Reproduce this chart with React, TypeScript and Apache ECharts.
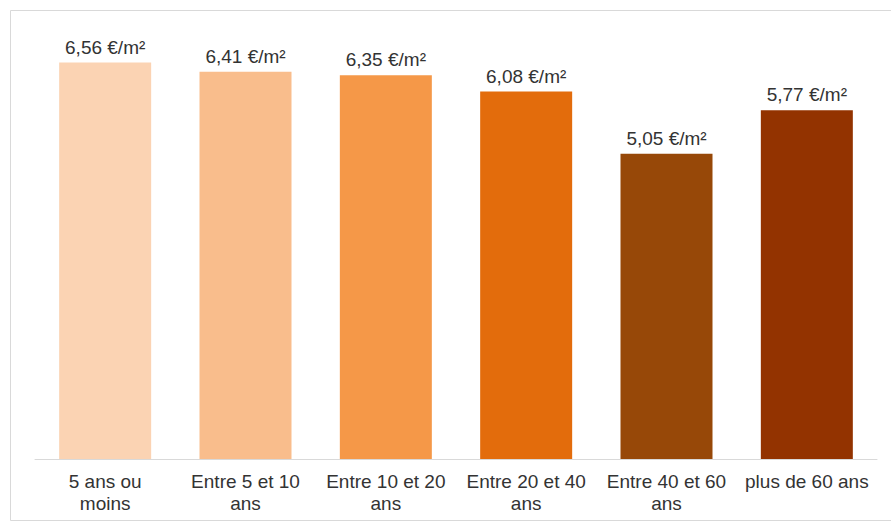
import React, { useEffect, useRef } from "react";
import * as echarts from "echarts";

const categories = [
  "5 ans ou\nmoins",
  "Entre 5 et 10\nans",
  "Entre 10 et 20\nans",
  "Entre 20 et 40\nans",
  "Entre 40 et 60\nans",
  "plus de 60 ans",
];
const values = [6.56, 6.41, 6.35, 6.08, 5.05, 5.77];
const barColors = ["#FBD3B3", "#F9BD8C", "#F59848", "#E36C0C", "#974808", "#933300"];
const unit = " €/m²";

export default function App() {
  const ref = useRef<HTMLDivElement>(null);
  useEffect(() => {
    if (!ref.current) return;
    const chart = echarts.init(ref.current, undefined, { renderer: "svg" });
    chart.setOption({
      animation: false,
      backgroundColor: "#ffffff",
      graphic: [
        {
          type: "rect",
          shape: { x: 10.5, y: 10.5, width: 890, height: 510 },
          style: { fill: "none", stroke: "#d9d9d9", lineWidth: 1 },
          silent: true,
        },
      ],
      grid: { left: 35, right: 14, top: 36, bottom: 65 },
      xAxis: {
        type: "category",
        data: categories,
        axisLine: { lineStyle: { color: "#d9d9d9", width: 1 } },
        axisTick: { show: false },
        axisLabel: {
          interval: 0,
          margin: 11,
          color: "#333333",
          fontFamily: "Liberation Sans, Arial, sans-serif",
          fontSize: 19,
          lineHeight: 22,
        },
      },
      yAxis: {
        type: "value",
        min: 0,
        max: 7,
        show: false,
        splitLine: { show: false },
      },
      series: [
        {
          type: "bar",
          barWidth: 92,
          data: values.map((v, i) => ({ value: v, itemStyle: { color: barColors[i] } })),
          label: {
            show: true,
            position: "top",
            distance: 6,
            color: "#333333",
            fontFamily: "Liberation Sans, Arial, sans-serif",
            fontSize: 19,
            formatter: (p: any) => p.value.toFixed(2).replace(".", ",") + unit,
          },
        },
      ],
    });
    return () => chart.dispose();
  }, []);
  return (
    <div
      ref={ref}
      style={{ position: "fixed", left: 0, top: 0, width: 891, height: 524 }}
    />
  );
}
